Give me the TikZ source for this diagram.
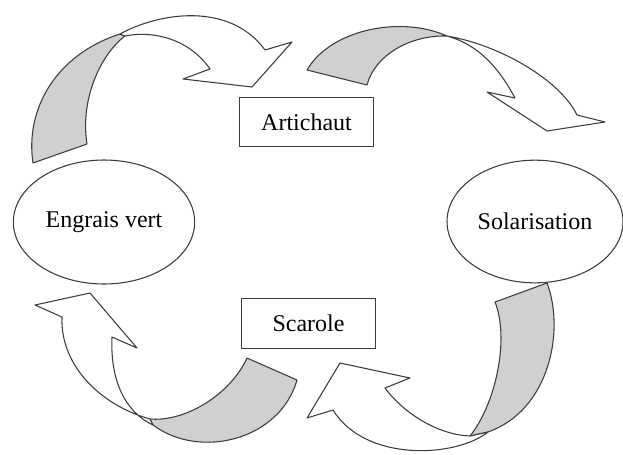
\documentclass[tikz,border=0pt]{standalone}
\usepackage{fontspec}
\setmainfont{Liberation Serif}
\usetikzlibrary{shapes.geometric}
\definecolor{LGray}{HTML}{D0D0D0}
\definecolor{DGray}{HTML}{3C3C3C}

\begin{document}
\begin{tikzpicture}[x=0.75pt, y={(0pt,-0.75pt)},
    ribbon/.style={draw=DGray, line width=0.8pt, line join=round},
    back/.style={ribbon, fill=LGray},
    front/.style={ribbon, fill=white},
    cropnode/.style={draw=DGray, line width=0.8pt, fill=white, inner sep=0pt,
        font=\fontsize{18}{20}\selectfont},
    boxnode/.style={cropnode, rectangle, minimum width=101pt, minimum height=37pt},
    ellnode/.style={cropnode, ellipse}]

    \useasboundingbox (0,0) rectangle (623,454);

    % Arrow points
    \begin{scope}[name prefix=a1-]
        \coordinate (1) at (33,163);
        \coordinate (2) at (87,144);
        \coordinate (3) at (120,34);
        \coordinate (4) at (125,36);
        \coordinate (5) at (265,50);
        \coordinate (6) at (292,42);
        \coordinate (7) at (252,87);
        \coordinate (8) at (183,79);
        \coordinate (9) at (210,69);
    \end{scope}
    \begin{scope}[name prefix=a2-]
        \coordinate (1) at (307,70);
        \coordinate (2) at (367,85);
        \coordinate (3) at (447,36);
        \coordinate (4) at (577,115);
        \coordinate (5) at (605,122);
        \coordinate (6) at (547,131);
        \coordinate (7) at (487,92);
        \coordinate (8) at (515,98);
    \end{scope}
    \begin{scope}[name prefix=a3-]
        \coordinate (1) at (297,380);
        \coordinate (2) at (247,358);
        \coordinate (3) at (150,419);
        \coordinate (4) at (153,425);
        \coordinate (5) at (62,317);
        \coordinate (6) at (35,305);
        \coordinate (7) at (90,293);
        \coordinate (8) at (137,348);
        \coordinate (9) at (112,337);
    \end{scope}
    \begin{scope}[name prefix=a4-]
        \coordinate (1) at (547,283);
        \coordinate (2) at (495,302);
        \coordinate (3) at (488,432);
        \coordinate (4) at (470,436);
        \coordinate (5) at (333,410);
        \coordinate (6) at (307,418);
        \coordinate (7) at (340,363);
        \coordinate (8) at (410,378);
        \coordinate (9) at (385,388);
    \end{scope}

    % Engrais vert -> Artichaut
    \draw[back] (a1-1) .. controls (25,110) and (55,55) .. (a1-3)
        -- (a1-4) .. controls (100,55) and (80,100) .. (a1-2) -- cycle;
    \draw[front] (a1-3) .. controls (160,12) and (230,2) .. (a1-5)
        -- (a1-6) -- (a1-7) -- (a1-8) -- (a1-9)
        .. controls (190,40) and (155,30) .. (a1-4) -- cycle;

    % Artichaut -> Solarisation
    \draw[back] (a2-1) .. controls (330,30) and (400,15) .. (a2-3)
        .. controls (410,35) and (375,55) .. (a2-2) -- cycle;
    \draw[front] (a2-3) .. controls (500,45) and (560,80) .. (a2-4)
        -- (a2-5) -- (a2-6) -- (a2-7) -- (a2-8)
        .. controls (500,70) and (480,45) .. (a2-3) -- cycle;

    % Scarole -> Engrais vert
    \draw[back] (a3-1) .. controls (280,440) and (200,460) .. (a3-4)
        -- (a3-3) .. controls (185,422) and (230,395) .. (a3-2) -- cycle;
    \draw[front] (a3-3) .. controls (100,405) and (60,365) .. (a3-5)
        -- (a3-6) -- (a3-7) -- (a3-8) -- (a3-9)
        .. controls (110,380) and (125,412) .. (a3-4) -- cycle;

    % Solarisation -> Scarole
    \draw[back] (a4-1) .. controls (565,330) and (550,410) .. (a4-3)
        -- (a4-4) .. controls (495,405) and (510,340) .. (a4-2) -- cycle;
    \draw[front] (a4-3) .. controls (455,458) and (365,462) .. (a4-5)
        -- (a4-6) -- (a4-7) -- (a4-8) -- (a4-9)
        .. controls (405,415) and (440,435) .. (a4-4) -- cycle;

    % Crops
    \node[ellnode, minimum width=136pt, minimum height=93pt] (engrais) at (104,222) {Engrais vert};
    \node[ellnode, minimum width=132pt, minimum height=92pt] (solar) at (535,221.5) {Solarisation};
    \node[boxnode] (artichaut) at (306.5,122) {Artichaut};
    \node[boxnode] (scarole) at (308.5,323.5) {Scarole};

\end{tikzpicture}
\end{document}
